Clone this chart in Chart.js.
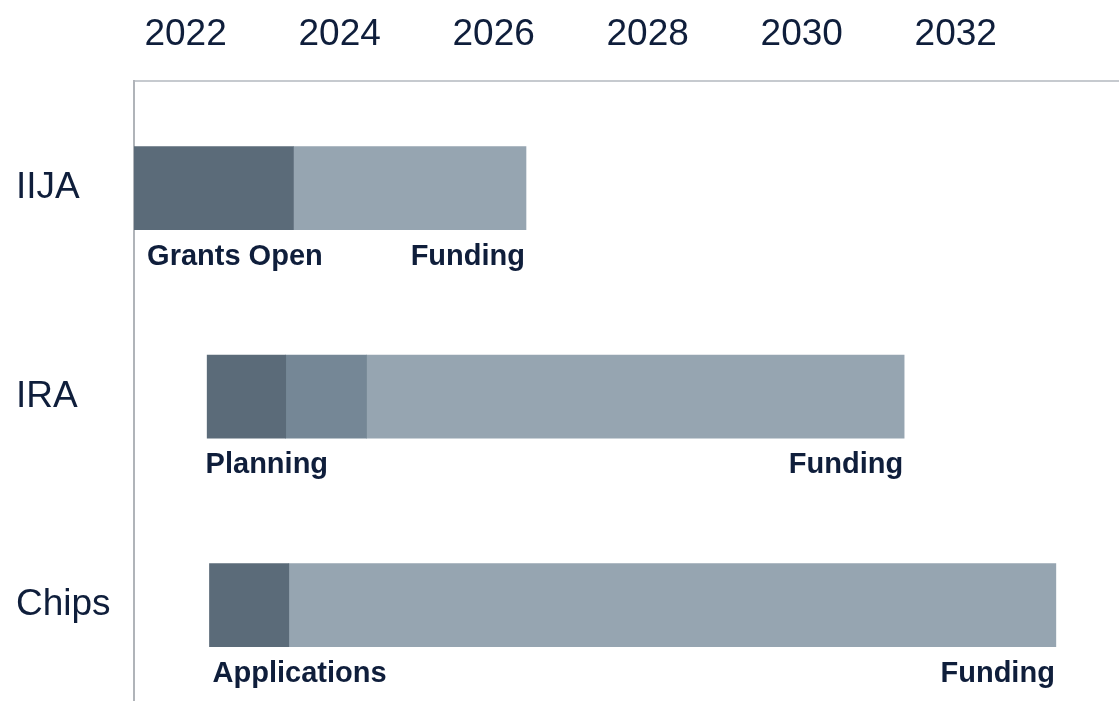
<!DOCTYPE html>
<html>
<head>
<meta charset="utf-8">
<script src="https://cdn.jsdelivr.net/npm/chart.js@4/dist/chart.umd.min.js"></script>
<style>
  html, body { margin: 0; padding: 0; background: #ffffff; overflow: hidden; }
  #wrap { position: relative; width: 1119px; height: 701px; }
</style>
</head>
<body>
<div id="wrap"><canvas id="c"></canvas></div>
<script>
// ---- data (years) ----
const categories   = ['IIJA', 'IRA', 'Chips'];
const phase1Start  = [2021.33, 2022.28, 2022.31];   // dark segment start
const phase1End    = [2023.40, 2023.30, 2023.34];   // dark segment end
const phase2End    = [null,    2024.35, null];      // mid segment end (IRA only)
const fundingEnd   = [2026.42, 2031.33, 2033.30];   // light segment end
const startLabels  = ['Grants Open', 'Planning', 'Applications'];
const startLabelAt = [2021.50, 2022.26, 2022.35];
const endLabels    = ['Funding', 'Funding', 'Funding'];
const yearTicks    = [2022, 2024, 2026, 2028, 2030, 2032];
const yearMin = 2021.33;
const yearMax = 2034.12;
const rowMin = -0.514;
const rowMax = 2.46;

// ---- styles ----
const FONT = "'Liberation Sans', Arial, Helvetica, sans-serif";
const NAVY = '#0f1e3b';
const DARK = '#5b6b79';
const MID  = '#758796';
const LIGHT = '#96a5b1';
const BAR_THICK = 83;

const darkData = categories.map((c, i) => ({ x: [phase1Start[i], phase1End[i]], y: i }));
const midData = [];
categories.forEach((c, i) => { if (phase2End[i] !== null) midData.push({ x: [phase1End[i], phase2End[i]], y: i }); });
const lightData = categories.map((c, i) => ({ x: [phase2End[i] !== null ? phase2End[i] : phase1End[i], fundingEnd[i]], y: i }));

const barLabels = {
  id: 'barLabels',
  afterDatasetsDraw(chart) {
    const ctx = chart.ctx;
    const xs = chart.scales.x, ys = chart.scales.y;
    ctx.save();
    ctx.font = 'bold 29px ' + FONT;
    ctx.fillStyle = NAVY;
    ctx.textBaseline = 'alphabetic';
    categories.forEach((c, i) => {
      const yb = ys.getPixelForValue(i) + BAR_THICK / 2 + 35;
      ctx.textAlign = 'left';
      ctx.fillText(startLabels[i], xs.getPixelForValue(startLabelAt[i]), yb);
      ctx.textAlign = 'right';
      ctx.fillText(endLabels[i], xs.getPixelForValue(fundingEnd[i]) - 1, yb);
    });
    ctx.restore();
  }
};

new Chart(document.getElementById('c'), {
  type: 'bar',
  data: {
    datasets: [
      { label: 'Phase 1', data: darkData, backgroundColor: DARK, grouped: false, barThickness: BAR_THICK },
      { label: 'Phase 2', data: midData, backgroundColor: MID, grouped: false, barThickness: BAR_THICK },
      { label: 'Funding', data: lightData, backgroundColor: LIGHT, grouped: false, barThickness: BAR_THICK }
    ]
  },
  options: {
    indexAxis: 'y',
    responsive: true,
    maintainAspectRatio: false,
    animation: false,
    layout: { padding: { left: 16, right: 0, top: 0, bottom: 0 } },
    plugins: { legend: { display: false }, tooltip: { enabled: false } },
    scales: {
      x: {
        type: 'linear',
        position: 'top',
        offset: false,
        min: yearMin,
        max: yearMax,
        afterBuildTicks: (s) => { s.ticks = yearTicks.map(v => ({ value: v })); },
        afterFit: (s) => { s.height = 81; s.paddingLeft = 0; s.paddingRight = 0; },
        grid: { display: false, drawTicks: false },
        border: { display: true, color: '#c6cacf', width: 2 },
        ticks: {
          autoSkip: false, maxRotation: 0, padding: 24,
          color: NAVY, font: { family: FONT, size: 37 },
          callback: (v) => String(v)
        }
      },
      y: {
        type: 'linear',
        position: 'left',
        offset: false,
        reverse: true,
        min: rowMin,
        max: rowMax,
        afterBuildTicks: (s) => { s.ticks = categories.map((c, i) => ({ value: i })); },
        afterFit: (s) => { s.width = 118; s.paddingTop = 0; s.paddingBottom = 0; },
        grid: { display: false, drawTicks: false },
        border: { display: true, color: '#b0b4b9', width: 2 },
        ticks: {
          autoSkip: false, crossAlign: 'far', padding: 0,
          color: NAVY, font: { family: FONT, size: 37 },
          callback: (v) => categories[v]
        }
      }
    }
  },
  plugins: [barLabels]
});
</script>
</body>
</html>
